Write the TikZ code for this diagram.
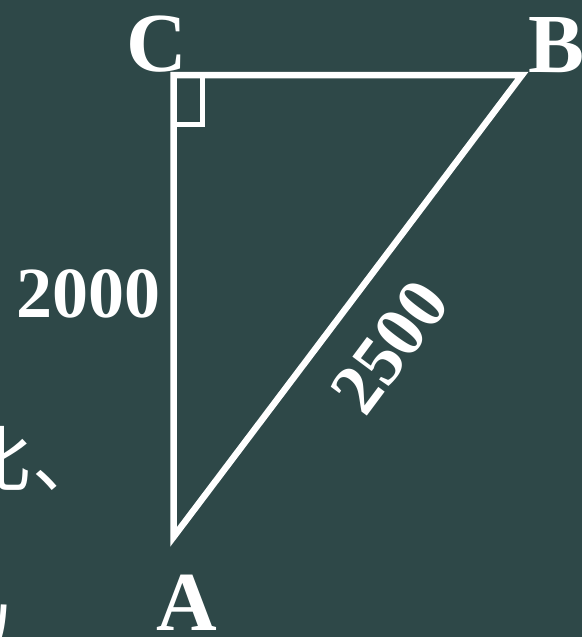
\documentclass[tikz,border=0pt]{standalone}
\usepackage{fontspec}
\setmainfont{Liberation Serif}
\newfontfamily\cjk{Noto Sans CJK SC}
\definecolor{board}{RGB}{46,72,72}
\begin{document}
\begin{tikzpicture}[x=1pt,y=-1pt,
  edge/.style={draw=white,line width=6.5pt,line join=miter},
  rightmark/.style={draw=white,line width=5pt},
  vlabel/.style={text=white,font=\fontsize{84}{84}\selectfont\bfseries,inner sep=0pt,anchor=base},
  nlabel/.style={text=white,font=\fontsize{72}{72}\selectfont\bfseries,inner sep=0pt},
  cjktext/.style={text=white,font=\fontsize{72}{72}\selectfont\cjk,inner sep=0pt,anchor=base west}]
\useasboundingbox (0,0) rectangle (582,637);
\clip (0,0) rectangle (582,637);
\fill[board] (0,0) rectangle (582,637);
\coordinate (C) at (173.5,75);
\coordinate (B) at (522,75);
\coordinate (A) at (173.5,537);
\coordinate (m1) at (173.5,124.5);
\coordinate (m2) at (202.5,124.5);
\coordinate (m3) at (202.5,75);
\draw[edge] (C) -- (B) -- (A) -- cycle;
\draw[rightmark] (m1) -- (m2) -- (m3);
\node[vlabel] (lC) at (157,71) {C};
\node[vlabel] (lB) at (557,72) {B};
\node[vlabel] (lA) at (187,630) {A};
\node[nlabel,anchor=base] (l2000) at (88.5,317) {2000};
\node[nlabel,rotate=53.3] (l2500) at (390,347) {2500};
\node[cjktext] (t1) at (-40,486) {比、};
\node[cjktext] (t2) at (-54,662) {以};
\end{tikzpicture}
\end{document}
